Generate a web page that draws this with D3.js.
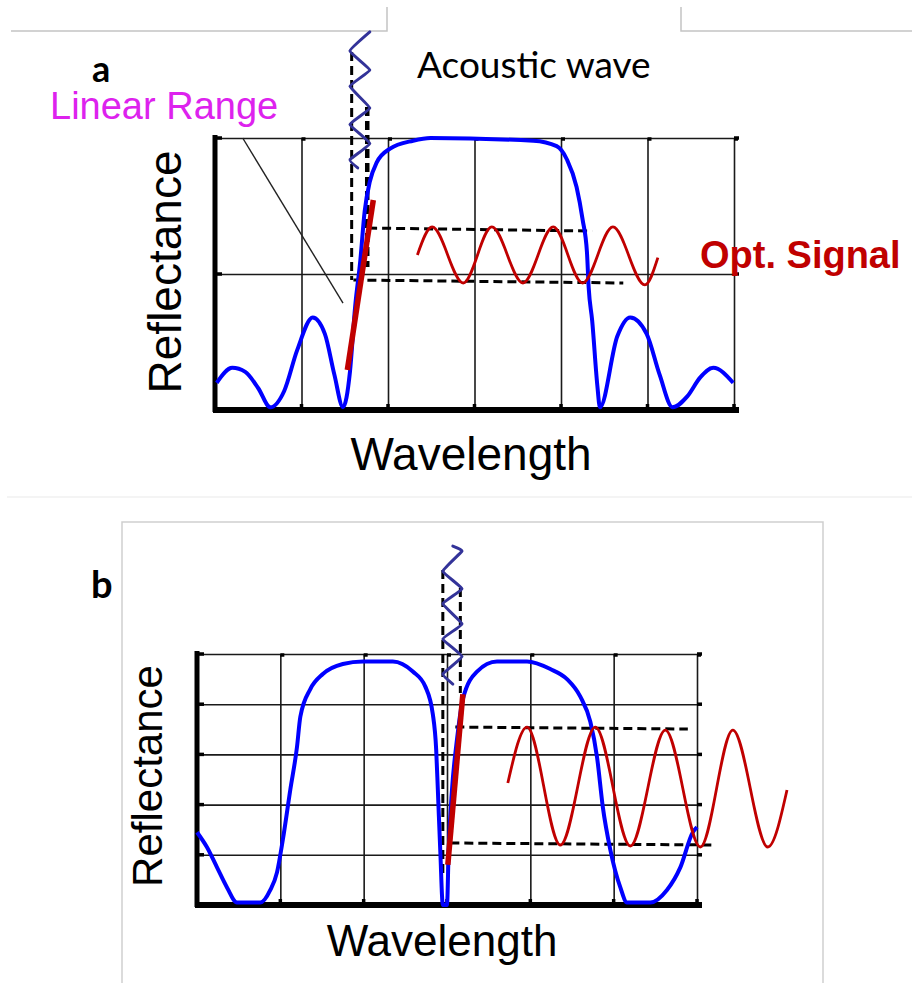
<!DOCTYPE html>
<html>
<head>
<meta charset="utf-8">
<script src="https://cdn.jsdelivr.net/npm/d3@7"></script>
<style>
  body { margin: 0; background: #fff; }
  svg { display: block; }
</style>
</head>
<body>
<svg width="912" height="983"></svg>
<script>
// grid positions (wavelength units / reflectance)
const gridX = [0, 1, 2, 3, 4, 5, 6];
const gridYA = [0, 0.5, 1];
const gridYB = [0, 0.2, 0.4, 0.6, 0.8, 1];

// panel a: single grating reflectance (x, R)
const reflA = [
  [0.02, 0.10], [0.20, 0.155], [0.35, 0.14], [0.50, 0.08], [0.64, 0.01],
  [0.80, 0.07], [0.95, 0.22], [1.13, 0.34], [1.27, 0.28], [1.38, 0.13],
  [1.48, 0.01], [1.56, 0.14], [1.62, 0.38], [1.68, 0.55], [1.73, 0.73],
  [1.79, 0.84], [1.87, 0.91], [2.02, 0.96], [2.29, 0.99], [2.49, 1.0],
  [3.68, 0.99], [3.95, 0.97], [4.07, 0.92], [4.18, 0.82], [4.25, 0.70],
  [4.30, 0.58], [4.32, 0.45], [4.36, 0.33], [4.42, 0.09], [4.45, 0.01],
  [4.65, 0.27], [4.80, 0.34], [4.99, 0.28], [5.14, 0.13], [5.29, 0.01],
  [5.46, 0.05], [5.61, 0.12], [5.76, 0.155], [5.99, 0.10]
];
const linearA = [[1.53, 0.147], [1.83, 0.772]];
const acousticA = [
  [1.65, 0.89], [1.56, 0.92], [1.79, 0.98], [1.56, 1.05], [1.79, 1.11],
  [1.56, 1.19], [1.79, 1.25], [1.56, 1.32], [1.79, 1.39]
];
const signalA = [
  [2.34, 0.57], [2.51, 0.673], [2.87, 0.467], [3.20, 0.673], [3.56, 0.467],
  [3.91, 0.673], [4.25, 0.467], [4.60, 0.673], [4.97, 0.46], [5.12, 0.56]
];
// dashed guides: [x0, y0, x1, y1, width]
const dashA = [
  [1.58, 1.316, 1.58, 0.478, 3],
  [1.76, 1.114, 1.76, 0.526, 4.5],
  [1.77, 0.669, 4.36, 0.658, 3],
  [1.60, 0.478, 4.72, 0.467, 3]
];
const pointerA = [[0.32, 1.0], [1.48, 0.393]];

// panel b: phase-shifted grating reflectance
const reflB = [
  [0.00, 0.29], [0.12, 0.23], [0.24, 0.15], [0.36, 0.07], [0.48, 0.01],
  [0.76, 0.01], [0.88, 0.06], [0.96, 0.13], [1.03, 0.26], [1.12, 0.46],
  [1.20, 0.63], [1.24, 0.75], [1.36, 0.86], [1.51, 0.92], [1.75, 0.96],
  [1.99, 0.97], [2.35, 0.97], [2.59, 0.93], [2.74, 0.87], [2.83, 0.76],
  [2.87, 0.62], [2.89, 0.46], [2.92, 0.21], [2.95, 0.0], [3.00, 0.0],
  [3.02, 0.22], [3.06, 0.46], [3.12, 0.66], [3.19, 0.82], [3.36, 0.93],
  [3.60, 0.97], [3.96, 0.97], [4.24, 0.94], [4.44, 0.90], [4.60, 0.83],
  [4.72, 0.73], [4.80, 0.59], [4.87, 0.39], [4.96, 0.22], [5.08, 0.07],
  [5.16, 0.01], [5.44, 0.01], [5.64, 0.06], [5.80, 0.15], [5.95, 0.29],
  [6.00, 0.31]
];
const linearB = [[3.01, 0.16], [3.19, 0.84]];
const acousticB = [
  [3.07, 0.88], [2.95, 0.92], [3.18, 0.99], [2.95, 1.06], [3.18, 1.12],
  [2.95, 1.20], [3.18, 1.26], [2.95, 1.33], [3.18, 1.41], [3.07, 1.43]
];
const signalB = [
  [3.73, 0.486], [3.96, 0.709], [4.36, 0.239], [4.78, 0.709], [5.20, 0.235],
  [5.62, 0.697], [6.04, 0.231], [6.43, 0.697], [6.85, 0.231], [7.08, 0.458]
];
const dashB = [
  [2.95, 1.335, 2.95, 0.12, 3],
  [3.16, 1.263, 3.16, 0.845, 3],
  [3.10, 0.709, 5.89, 0.701, 3],
  [3.04, 0.247, 6.22, 0.239, 3]
];

const svg = d3.select("svg");
const ARIAL = "'Liberation Sans', Arial, sans-serif";
const CALIBRI = "Lato, 'Open Sans', sans-serif";

// frame lines of the two image boxes
const frame = svg.append("g").attr("fill", "none");
frame.append("path").attr("d", "M11,31H387V7M681,7V31H912")
  .attr("stroke", "#c4c4c4").attr("stroke-width", 1.5);
frame.append("path").attr("d", "M7,497H912")
  .attr("stroke", "#f0f0f0").attr("stroke-width", 1.5);
frame.append("path").attr("d", "M122,983V522H823V983")
  .attr("stroke", "#cfcfcf").attr("stroke-width", 1.5);

function drawPanel(p) {
  const x = d3.scaleLinear().domain([0, 6]).range(p.xRange);
  const y = d3.scaleLinear().domain([0, 1]).range(p.yRange);
  const g = svg.append("g");

  // grid via axes
  g.append("g")
    .attr("transform", `translate(0,${y(0)})`)
    .call(d3.axisBottom(x).tickValues(gridX).tickSize(y(1) - y(0)).tickFormat(""))
    .call(a => a.select(".domain").remove())
    .selectAll("line").attr("stroke", "#1a1a1a").attr("stroke-width", 1.6);
  g.append("g")
    .attr("transform", `translate(${x(0)},0)`)
    .call(d3.axisLeft(y).tickValues(p.gridY).tickSize(x(0) - x(6)).tickFormat(""))
    .call(a => a.select(".domain").remove())
    .selectAll("line").attr("stroke", "#1a1a1a").attr("stroke-width", 1.6);

  // small tick nubs on the frame
  const nub = g.append("g").attr("stroke", "#000").attr("stroke-width", 3.5);
  nub.selectAll(".nb").data(gridX).join("line")
    .attr("x1", d => x(d)).attr("x2", d => x(d))
    .attr("y1", y(0)).attr("y2", y(0) - 6);
  nub.selectAll(".nt").data(gridX.slice(1)).join("line")
    .attr("x1", d => x(d)).attr("x2", d => x(d) + 4)
    .attr("y1", y(1) + 1).attr("y2", y(1) + 1);
  nub.selectAll(".nl").data(p.gridY).join("line")
    .attr("x1", x(0)).attr("x2", x(0) + 7)
    .attr("y1", d => y(d)).attr("y2", d => y(d));
  nub.selectAll(".nr").data(p.gridY).join("line")
    .attr("x1", x(6)).attr("x2", x(6) + 5)
    .attr("y1", d => y(d)).attr("y2", d => y(d));

  // heavy left and bottom axes
  g.append("line").attr("x1", x(0)).attr("x2", x(0))
    .attr("y1", y(1) - 3).attr("y2", y(0) + 2)
    .attr("stroke", "#000").attr("stroke-width", 5);
  g.append("line").attr("x1", x(0) - 2).attr("x2", x(6) + 5)
    .attr("y1", y(0)).attr("y2", y(0))
    .attr("stroke", "#000").attr("stroke-width", 6);

  const line = d3.line().x(d => x(d[0])).y(d => y(d[1]));

  // dashed guide lines
  g.selectAll(".dash").data(p.dash).join("line")
    .attr("x1", d => x(d[0])).attr("y1", d => y(d[1]))
    .attr("x2", d => x(d[2])).attr("y2", d => y(d[3]))
    .attr("stroke", "#000").attr("stroke-width", d => d[4])
    .attr("stroke-dasharray", "9,5");

  // reflectance spectrum
  g.append("path").datum(p.refl)
    .attr("d", line.curve(d3.curveMonotoneX))
    .attr("fill", "none").attr("stroke", "#0000ff")
    .attr("stroke-width", 4).attr("stroke-linejoin", "round");

  // acoustic wave
  g.append("path").datum(p.acoustic)
    .attr("d", line.curve(d3.curveCardinal.tension(0.7)))
    .attr("fill", "none").attr("stroke", "#333399")
    .attr("stroke-width", 3).attr("stroke-linecap", "round")
    .attr("stroke-linejoin", "round");

  // optical signal
  g.append("path").datum(p.signal)
    .attr("d", line.curve(d3.curveMonotoneX))
    .attr("fill", "none").attr("stroke", "#c00000")
    .attr("stroke-width", 2.8);

  // linear range slope
  g.append("path").datum(p.linear)
    .attr("d", line.curve(d3.curveLinear))
    .attr("fill", "none").attr("stroke", "#c00000")
    .attr("stroke-width", 5.5);

  if (p.pointer) {
    g.append("path").datum(p.pointer)
      .attr("d", line.curve(d3.curveLinear))
      .attr("fill", "none").attr("stroke", "#222").attr("stroke-width", 1.4);
  }

  // axis titles
  g.append("text")
    .attr("transform", `translate(${p.yTitle[0]},${p.yTitle[1]}) rotate(-90)`)
    .attr("text-anchor", "middle")
    .attr("font-family", ARIAL).attr("font-size", p.titleSize[0])
    .text("Reflectance");
  g.append("text")
    .attr("x", p.xTitle[0]).attr("y", p.xTitle[1])
    .attr("text-anchor", "middle")
    .attr("font-family", ARIAL).attr("font-size", p.titleSize[1])
    .text("Wavelength");
}

drawPanel({
  xRange: [215, 734], yRange: [410, 138], gridY: gridYA,
  refl: reflA, linear: linearA, acoustic: acousticA, signal: signalA,
  dash: dashA, pointer: pointerA,
  yTitle: [181, 272], xTitle: [471, 470], titleSize: [46, 46]
});
drawPanel({
  xRange: [197, 697], yRange: [905, 654], gridY: gridYB,
  refl: reflB, linear: linearB, acoustic: acousticB, signal: signalB,
  dash: dashB, pointer: null,
  yTitle: [162, 776], xTitle: [442, 956], titleSize: [42, 44]
});

// annotations
svg.append("text").attr("x", 92).attr("y", 82)
  .attr("font-family", CALIBRI).attr("font-weight", "bold").attr("font-size", 36)
  .text("a");
svg.append("text").attr("x", 91).attr("y", 598)
  .attr("font-family", CALIBRI).attr("font-weight", "bold").attr("font-size", 38)
  .text("b");
svg.append("text").attr("x", 417).attr("y", 78)
  .attr("font-family", CALIBRI).attr("font-size", 37)
  .text("Acoustic wave");
svg.append("text").attr("x", 50).attr("y", 119)
  .attr("font-family", ARIAL).attr("font-size", 38).attr("fill", "#dd22ee")
  .text("Linear Range");
svg.append("text").attr("x", 700).attr("y", 268)
  .attr("font-family", ARIAL).attr("font-weight", "bold").attr("font-size", 38)
  .attr("fill", "#c00000")
  .text("Opt. Signal");
</script>
</body>
</html>
